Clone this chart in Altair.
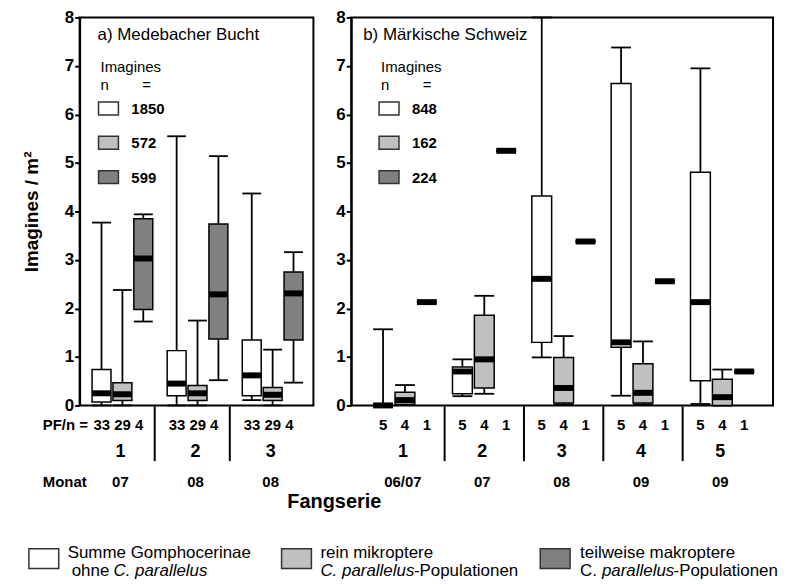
import altair as alt
import pandas as pd

FONT = "Liberation Sans"
SERIES = ["Summe Gomphocerinae", "rein mikroptere", "teilweise makroptere"]
FILLS = ["#ffffff", "#c0c0c0", "#808080"]

# ---------- panel a) Medebacher Bucht ----------
a_groups = ["1", "2", "3"]
a_months = ["07", "08", "08"]
a_pfn = [33, 29, 4]
a_n = [1850, 572, 599]
# per series: min, q1, median, q3, max  (one value per Fangserie)
a_white = [[0.00, 0.00, 0.11], [0.07, 0.20, 0.20], [0.25, 0.45, 0.62], [0.74, 1.13, 1.35], [3.77, 5.55, 4.37]]
a_gray = [[0.00, 0.00, 0.00], [0.10, 0.10, 0.10], [0.23, 0.25, 0.22], [0.47, 0.41, 0.37], [2.38, 1.75, 1.15]]
a_dark = [[1.73, 0.52, 0.47], [1.98, 1.37, 1.35], [3.03, 2.29, 2.31], [3.85, 3.74, 2.75], [3.94, 5.14, 3.16]]

# ---------- panel b) Märkische Schweiz ----------
b_groups = ["1", "2", "3", "4", "5"]
b_months = ["06/07", "07", "08", "09", "09"]
b_pfn = [5, 4, 1]
b_n = [848, 162, 224]
b_white = [[0.00, 0.19, 0.99, 0.20, 0.03], [0.00, 0.24, 1.30, 1.20, 0.51], [0.00, 0.70, 2.61, 1.30, 2.13],
           [0.00, 0.79, 4.32, 6.64, 4.81], [1.57, 0.95, 8.50, 7.38, 6.95]]
b_gray = [[0.02, 0.24, 0.02, 0.02, 0.00], [0.02, 0.36, 0.05, 0.05, 0.00], [0.11, 0.95, 0.36, 0.26, 0.17],
          [0.27, 1.86, 0.99, 0.86, 0.54], [0.42, 2.26, 1.43, 1.32, 0.74]]
b_dark_single = [2.13, 5.25, 3.38, 2.56, 0.70]
b_dark = [b_dark_single] * 5

H = 390
FILL_SCALE = alt.Scale(domain=SERIES, range=FILLS)


def box_frame(groups, stats, offset, half):
    rows = []
    for si, s in enumerate(SERIES):
        st = stats[si]
        for gi in range(len(groups)):
            pos = gi + (si - 1) * offset
            rows.append(dict(series=s, g=gi, pos=pos, xl=pos - half, xr=pos + half,
                             mn=st[0][gi], q1=st[1][gi], med=st[2][gi], q3=st[3][gi], mx=st[4][gi]))
    return pd.DataFrame(rows)


def txt(t, x, y, size=15, weight="normal", align="left", style="normal"):
    return alt.Chart(pd.DataFrame({"t": [t]})).mark_text(
        font=FONT, fontSize=size, fontWeight=weight, align=align, baseline="middle",
        fontStyle=style, color="black").encode(x=alt.value(x), y=alt.value(y), text="t:N")


def swatch(fill, x, y, w, h):
    return alt.Chart(pd.DataFrame({"f": [fill]})).mark_rect(
        fill=fill, stroke="#333333", strokeWidth=1.5).encode(
        x=alt.value(x), x2=alt.value(x + w), y=alt.value(y), y2=alt.value(y + h))


def panel(groups, months, stats, pfn, ncounts, label, width, xdom, offset, half, seps,
          leg_x, pfn_single, ytitle, extras):
    df = box_frame(groups, stats, offset, half)
    xs = alt.Scale(domain=xdom, nice=False, zero=False)
    ys = alt.Scale(domain=[0, 8], nice=False, clamp=True)
    yaxis = alt.Axis(values=list(range(9)), tickSize=5, tickWidth=2, tickColor="black",
                     domainColor="black", domainWidth=2, labelFont=FONT, labelFontSize=17,
                     labelFontWeight="bold", labelColor="black", labelPadding=1, grid=False,
                     title=ytitle if ytitle else None, titleFont=FONT, titleFontSize=19,
                     titleFontWeight="bold", titleColor="black", titleX=-48, titleY=H / 2,
                     titleAngle=270, titleAlign="center", titleBaseline="middle")
    X = lambda f: alt.X(f, type="quantitative", scale=xs, axis=None)
    Y = lambda f: alt.Y(f, type="quantitative", scale=ys, axis=yaxis)
    base = alt.Chart(df)
    whisk = base.mark_rule(color="black", strokeWidth=1.8).encode(x=X("pos"), y=Y("mn"), y2="mx")
    cap_hi = base.mark_rule(color="black", strokeWidth=1.8).encode(x=X("xl"), x2="xr", y=Y("mx"))
    cap_lo = base.mark_rule(color="black", strokeWidth=1.8).encode(x=X("xl"), x2="xr", y=Y("mn"))
    box = base.mark_rect(stroke="black", strokeWidth=1.5).encode(
        x=X("xl"), x2="xr", y=Y("q1"), y2="q3",
        fill=alt.Fill("series:N", scale=FILL_SCALE, legend=None))
    med = base.mark_rule(color="black", strokeWidth=6).encode(x=X("xl"), x2="xr", y=Y("med"))

    gdf = pd.DataFrame({"g": list(range(len(groups))), "num": groups, "month": months})
    sdf = pd.DataFrame({"s": seps})
    sep = alt.Chart(sdf).mark_rule(color="black", strokeWidth=2).encode(
        x=X("s"), y=alt.value(H + 1), y2=alt.value(H + 56))
    if pfn_single:
        pdf = pd.DataFrame({"g": list(range(len(groups))), "t": [" ".join(str(v) for v in pfn)] * len(groups)})
        pf = alt.Chart(pdf).mark_text(font=FONT, fontSize=15, fontWeight="bold", dx=-4,
                                      baseline="middle", color="black").encode(
            x=X("g"), y=alt.value(H + 20), text="t:N")
    else:
        pdf = df[["pos", "series"]].copy()
        pdf["t"] = [str(pfn[SERIES.index(s)]) for s in pdf["series"]]
        pf = alt.Chart(pdf).mark_text(font=FONT, fontSize=15, fontWeight="bold",
                                      baseline="middle", color="black").encode(
            x=X("pos"), y=alt.value(H + 20), text="t:N")
    gnum = alt.Chart(gdf).mark_text(font=FONT, fontSize=18, fontWeight="bold", dx=-2,
                                    baseline="middle", color="black").encode(
        x=X("g"), y=alt.value(H + 47), text="num:N")
    gmon = alt.Chart(gdf).mark_text(font=FONT, fontSize=15, fontWeight="bold", dx=-2,
                                    baseline="middle", color="black").encode(
        x=X("g"), y=alt.value(H + 77), text="month:N")

    inner = [txt(label, leg_x[0], 18, size=17),
             txt("Imagines", leg_x[1], 50, size=15),
             txt("n", leg_x[1], 68, size=15),
             txt("=", leg_x[1] + 42, 68, size=15)]
    for i, (fill, n) in enumerate(zip(FILLS, ncounts)):
        yy = 85 + i * 34.5
        inner.append(swatch(fill, leg_x[2], yy, 20, 13))
        inner.append(txt(str(n), leg_x[2] + 33, yy + 7, size=15, weight="bold"))

    layers = [whisk, cap_hi, cap_lo, box, med, sep, pf, gnum, gmon] + inner + extras
    return alt.layer(*layers).properties(width=width, height=H)


extras_left = [
    txt("PF/n =", -37, H + 20, size=15, weight="bold"),
    txt("Monat", -37, H + 77, size=15, weight="bold"),
    txt("Fangserie", 256, 487, size=20, weight="bold", align="center"),
    swatch(FILLS[0], -51, 534, 30, 20),
    swatch(FILLS[1], 203, 534, 30, 20),
    swatch(FILLS[2], 463, 534, 30, 20),
    txt("Summe Gomphocerinae", -12, 538, size=17),
    txt("ohne ", -8, 556, size=17),
    txt("C. parallelus", 34, 556, size=17, style="italic"),
    txt("rein mikroptere", 242, 538, size=17),
    txt("C. parallelus", 242, 556, size=17, style="italic"),
    txt("-Populationen", 336, 556, size=17),
    txt("teilweise makroptere", 503, 538, size=17),
    txt("C. ", 503, 556, size=17),
    txt("parallelus", 525, 556, size=17, style="italic"),
    txt("-Populationen", 597, 556, size=17),
]

left = panel(a_groups, a_months, [a_white, a_gray, a_dark], a_pfn, a_n, "a) Medebacher Bucht",
             235, [-0.5695, 2.543], 0.278, 0.126, [0.43, 1.43], (18, 21, 19), True,
             "Imagines / m²", extras_left)
right = panel(b_groups, b_months, [b_white, b_gray, b_dark], b_pfn, b_n, "b) Märkische Schweiz",
              424, [-0.677, 4.639], 0.276, 0.125, [0.5, 1.5, 2.5, 3.5], (12, 30, 28), False,
              None, [])

chart = alt.hconcat(left, right, spacing=38, bounds="flush").configure_view(
    stroke="black", strokeWidth=2).properties(
    padding={"left": 14, "top": -2, "right": 0, "bottom": 0}, background="white")

chart.save("out.html", embed_options={"renderer": "svg", "actions": False})
